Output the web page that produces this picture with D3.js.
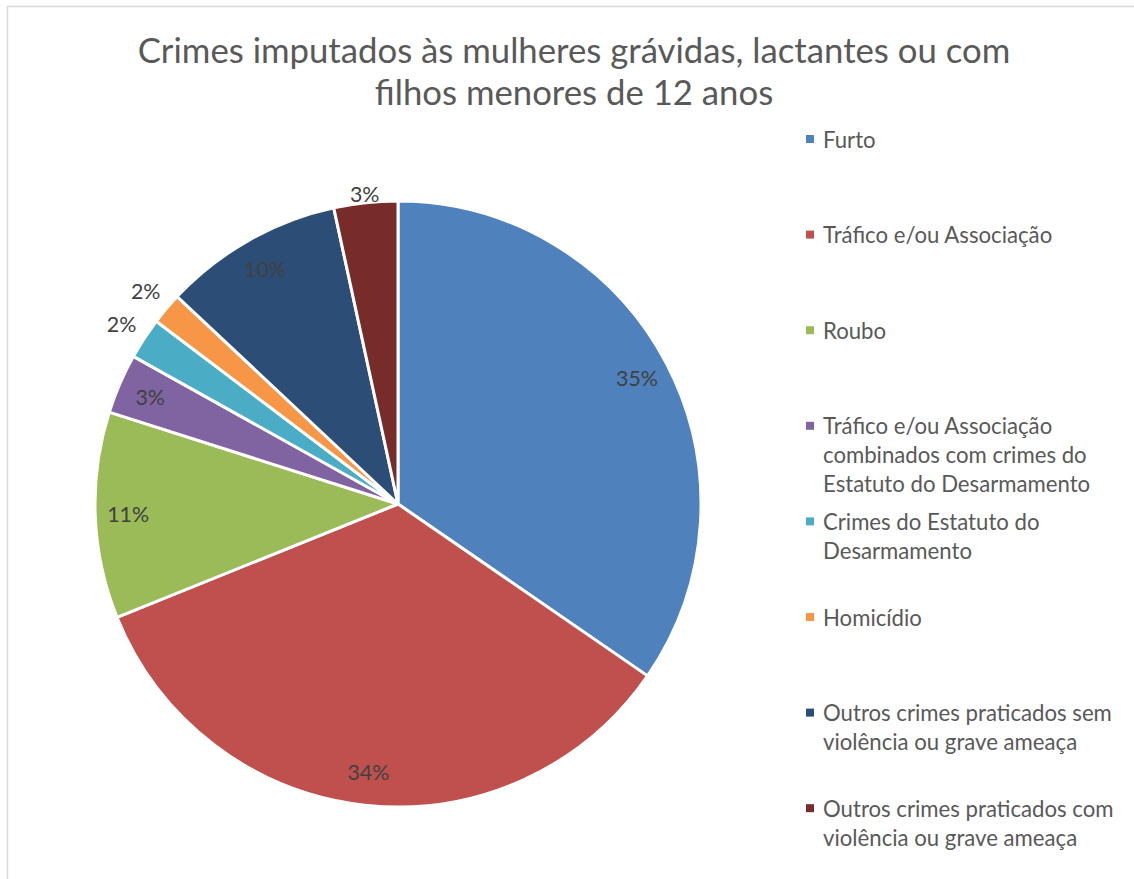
<!DOCTYPE html>
<html>
<head>
<meta charset="utf-8">
<script src="https://cdn.jsdelivr.net/npm/d3@7"></script>
<style>
  html, body { margin: 0; padding: 0; background: #fff; }
  svg { display: block; }
</style>
</head>
<body>
<svg id="chart" width="1134" height="879"></svg>
<script>
// ---- data ----
const categories = [
  "Furto",
  "Tráfico e/ou Associação",
  "Roubo",
  "Tráfico e/ou Associação combinados com crimes do Estatuto do Desarmamento",
  "Crimes do Estatuto do Desarmamento",
  "Homicídio",
  "Outros crimes praticados sem violência ou grave ameaça",
  "Outros crimes praticados com violência ou grave ameaça"
];
const values = [34.6, 34.3, 11.0, 3.2, 2.2, 1.7, 9.6, 3.4];
const dataLabels = ["35%", "34%", "11%", "3%", "2%", "2%", "10%", "3%"];
const labelOutside = [false, false, false, false, true, true, false, true];
const colors = ["#4F81BD", "#C0504D", "#9BBB59", "#8064A2", "#4BACC6", "#F79646", "#2C4D75", "#772C2A"];
const legendLines = [
  ["Furto"],
  ["Tráfico e/ou Associação"],
  ["Roubo"],
  ["Tráfico e/ou Associação", "combinados com crimes do", "Estatuto do Desarmamento"],
  ["Crimes do Estatuto do", "Desarmamento"],
  ["Homicídio"],
  ["Outros crimes praticados sem", "violência ou grave ameaça"],
  ["Outros crimes praticados com", "violência ou grave ameaça"]
];
const titleLines = ["Crimes imputados às mulheres grávidas, lactantes ou com", "filhos menores de 12 anos"];

// ---- layout ----
const svg = d3.select("#chart");
const FONT = "Lato, 'Open Sans', sans-serif";
const cx = 398, cy = 504, R = 303;

// chart border (left & top visible)
svg.append("rect").attr("x", 7.5).attr("y", 6.5).attr("width", 1200).attr("height", 1000)
  .attr("fill", "none").attr("stroke", "#D9D9D9").attr("stroke-width", 1.5);

function fitSize(text, targetW, base) {
  const t = svg.append("text").attr("font-family", FONT).attr("font-size", base).text(text);
  const w = t.node().getComputedTextLength();
  t.remove();
  return base * targetW / w;
}

// title
const titleSize = fitSize(titleLines[0], 873, 30);
svg.append("g").selectAll("text").data(titleLines).join("text")
  .attr("x", 574).attr("y", (d, i) => 63 + i * 42)
  .attr("text-anchor", "middle")
  .attr("font-family", FONT).attr("font-size", titleSize)
  .attr("fill", "#595959").text(d => d);

// pie
const pie = d3.pie().sort(null).value(d => d)(values);
const arc = d3.arc().innerRadius(0).outerRadius(R);
const g = svg.append("g").attr("transform", `translate(${cx},${cy})`);
g.selectAll("path").data(pie).join("path")
  .attr("d", arc)
  .attr("fill", (d, i) => colors[i])
  .attr("stroke", "#fff").attr("stroke-width", 3).attr("stroke-linejoin", "round");

// data labels
const lblSize = fitSize("35%", 42, 17);
const inArc = d3.arc().innerRadius(270).outerRadius(270);
const outArc = d3.arc().innerRadius(330).outerRadius(330);
g.selectAll("text.lbl").data(pie).join("text")
  .attr("class", "lbl")
  .attr("transform", (d, i) => {
    let [x, y] = (labelOutside[i] ? outArc : inArc).centroid(d);
    if (i === 7) { const a = (d.startAngle + d.endAngle) / 2; x = Math.sin(a) * 312; y = -Math.cos(a) * 312; }
    return `translate(${x},${y})`;
  })
  .attr("text-anchor", "middle").attr("dominant-baseline", "central")
  .attr("font-family", FONT).attr("font-size", lblSize)
  .attr("fill", "#404040").text((d, i) => dataLabels[i]);

// legend
const legSize = fitSize("Outros crimes praticados sem", 289, 19);
const legTop = 139, legStep = 95.6, lineH = 29;
const leg = svg.append("g");
legendLines.forEach((lines, i) => {
  const y0 = legTop + i * legStep;
  leg.append("rect").attr("x", 806).attr("y", y0 - 4).attr("width", 8).attr("height", 8).attr("fill", colors[i]);
  lines.forEach((ln, j) => {
    leg.append("text").attr("x", 823).attr("y", y0 + j * lineH)
      .attr("dominant-baseline", "central")
      .attr("font-family", FONT).attr("font-size", legSize)
      .attr("fill", "#595959").text(ln);
  });
});
</script>
</body>
</html>
